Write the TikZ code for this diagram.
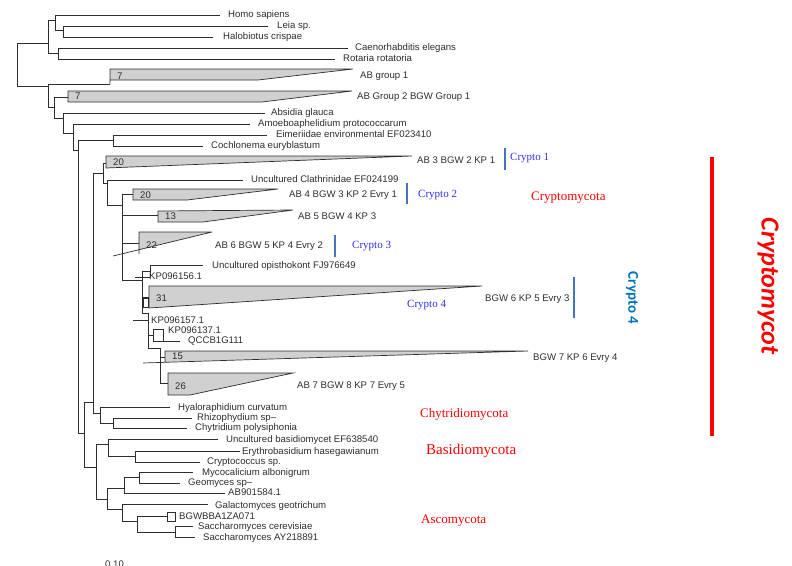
\documentclass[tikz,border=0pt]{standalone}
\usepackage{fontspec}
\setmainfont{Liberation Serif}
\setsansfont{Liberation Sans}
\newfontfamily\calibrifont{Carlito}
\definecolor{cryptoblue}{RGB}{45,45,245}
\definecolor{barblue}{RGB}{70,115,190}
\definecolor{sideblue}{RGB}{0,112,192}
\definecolor{cladegray}{RGB}{208,208,208}
\definecolor{treeline}{RGB}{45,45,45}

\begin{document}
\begin{tikzpicture}[x=1pt, y=-1pt,
  br/.style={draw=treeline, line width=0.8pt},
  clade/.style={fill=cladegray, draw=treeline, line width=0.7pt},
  taxon/.style={anchor=mid west, inner sep=0pt, text=treeline, font=\sffamily\fontsize{9.6}{10}\selectfont},
  cryptotag/.style={anchor=mid west, inner sep=0pt, text=cryptoblue, font=\fontsize{11}{12}\selectfont},
  phylum/.style={anchor=mid west, inner sep=0pt, text=red, font=\fontsize{13}{14}\selectfont},
  cryptobar/.style={draw=barblue, line width=2.6pt},
]
\useasboundingbox (0,0) rectangle (792,565);

% outgroup
\draw[br] (17,43) -- (17,86) (17,43) -- (48,43) (48,20) -- (48,53);
\draw[br] (48,20) -- (55,20) (55,15) -- (55,30) (55,15) -- (220,15);
\draw[br] (55,30) -- (63,30) (63,26) -- (63,37) (63,26) -- (268,26) (63,37) -- (213,37);
\draw[br] (48,53) -- (58,53) (58,48) -- (58,59) (58,48) -- (348,48) (58,59) -- (335,59);
\node[taxon] (homo) at (228,15) {Homo sapiens};
\node[taxon] (leia) at (277,26) {Leia sp.};
\node[taxon] (halo) at (223,37) {Halobiotus crispae};
\node[taxon] (caeno) at (355,48) {Caenorhabditis elegans};
\node[taxon] (rota) at (343,59) {Rotaria rotatoria};

% AB groups and early fungi
\draw[br] (17,86) -- (48,86) (48,84) -- (48,107) (48,84) -- (110,84);
\draw[clade] (110,84) -- (110,69) -- (353,69) -- (258,80) -- (110,80);
\node[taxon] (ab1n) at (117,77) {7};
\node[taxon] (ab1) at (360,76) {AB group 1};
\draw[br] (48,107) -- (54,107) (54,97) -- (54,118) (54,97) -- (68,97);
\draw[clade] (68,91) -- (352,91) -- (262,102) -- (68,102) -- cycle;
\node[taxon] (ab2n) at (75,97) {7};
\node[taxon] (ab2) at (357,97) {AB Group 2 BGW Group 1};
\draw[br] (54,118) -- (63,118) (63,113) -- (63,133) (63,113) -- (265,113);
\node[taxon] (absi) at (271,113) {Absidia glauca};
\draw[br] (63,133) -- (73,133) (73,124) -- (73,150) (73,124) -- (250,124);
\node[taxon] (amoe) at (258,124) {Amoeboaphelidium protococcarum};
\draw[br] (73,150) -- (78,150) (78,140) -- (78,433);
\draw[br] (78,140) -- (113,140) (113,135) -- (113,146) (113,135) -- (267,135) (113,146) -- (203,146);
\node[taxon] (eime) at (276,135) {Eimeriidae environmental EF023410};
\node[taxon] (coch) at (211,146) {Cochlonema euryblastum};

% Cryptomycota
\draw[br] (78,433) -- (84,433) (84,402) -- (84,467) (84,402) -- (93,402) (93,173) -- (93,413);
\draw[br] (93,173) -- (103,173) (103,163) -- (103,183) (103,163) -- (106,163);
\draw[clade] (106,156) -- (412,156) -- (106,168) -- cycle;
\node[taxon] (c1n) at (113,163) {20};
\node[taxon] (c1) at (417,161) {AB 3 BGW 2 KP 1};
\draw[br] (103,183) -- (107,183) (107,180) -- (107,205) (107,180) -- (243,180);
\node[taxon] (clat) at (251,180) {Uncultured Clathrinidae EF024199};
\draw[br] (107,205) -- (122,205) (122,194) -- (122,280) (122,194) -- (133,194) (122,215) -- (158,215);
\draw[clade] (133,189) -- (278,189) -- (187,200) -- (133,200) -- cycle;
\node[taxon] (c2n) at (140,196) {20};
\node[taxon] (c2) at (289,195) {AB 4 BGW 3 KP 2 Evry 1};
\draw[clade] (158,211) -- (293,210) -- (203,222) -- (158,222) -- cycle;
\node[taxon] (c5n) at (165,217) {13};
\node[taxon] (c5) at (298,217) {AB 5 BGW 4 KP 3};
\draw[br] (122,243) -- (139,243);
\fill[cladegray] (139,232) -- (212,232) -- (139,250) -- cycle;
\draw[br, line width=0.7pt] (139,254) -- (139,232) -- (212,232) (113,256) -- (212,232);
\node[taxon] (c3n) at (146,246) {22};
\node[taxon] (c3) at (215,246) {AB 6 BGW 5 KP 4 Evry 2};
\draw[br] (122,280) -- (142,280) (142,271) -- (142,313) (142,271) -- (150,271) (150,265) -- (150,277);
\draw[br] (150,265) -- (203,265) (135,277) -- (150,277);
\node[taxon] (opis) at (212,266) {Uncultured opisthokont FJ976649};
\node[taxon] (kp156) at (149,277) {KP096156.1};
\draw[br] (142,297) -- (149,297) (143,298) rectangle (148,307);
\draw[clade] (149,286) -- (482,286) -- (149,308) -- cycle;
\node[taxon] (c4n) at (156,299) {31};
\node[taxon] (c4) at (485,299) {BGW 6 KP 5 Evry 3};
\draw[br] (142,313) -- (148,313) (148,313) -- (148,348) (133,320) -- (148,320);
\node[taxon] (kp157) at (151,321) {KP096157.1};
\draw[br] (148,335) -- (153,335) (153,329) -- (153,341) (153,329) -- (163,329) (163,329) -- (163,341) (153,341) -- (180,341);
\node[taxon] (kp137) at (168,331) {KP096137.1};
\node[taxon] (qccb) at (188,341) {QCCB1G111};
\draw[br] (148,348) -- (160,348) (160,348) -- (160,383) (160,357) -- (165,357) (160,383) -- (168,383);
\fill[cladegray] (165,351) -- (528,351) -- (165,362) -- cycle;
\draw[br, line width=0.7pt] (165,362) -- (165,351) -- (528,351) (143,363) -- (528,351);
\node[taxon] (c6n) at (172,357) {15};
\node[taxon] (c6) at (533,358) {BGW 7 KP 6 Evry 4};
\draw[clade] (168,373) -- (293,373) -- (190,395) -- (168,395) -- cycle;
\node[taxon] (c7n) at (175,387) {26};
\node[taxon] (c7) at (297,386) {AB 7 BGW 8 KP 7 Evry 5};

% Chytridiomycota
\draw[br] (93,413) -- (100,413) (100,407) -- (100,423) (100,407) -- (170,407);
\draw[br] (100,423) -- (113,423) (113,418) -- (113,428) (113,418) -- (192,418) (113,428) -- (187,428);
\node[taxon] (hyal) at (178,408) {Hyaloraphidium curvatum};
\node[taxon] (rhiz) at (197,418) {Rhizophydium sp--};
\node[taxon] (chyt) at (195,428) {Chytridium polysiphonia};

% Basidiomycota and Ascomycota
\draw[br] (84,467) -- (96,467) (96,444) -- (96,499);
\draw[br] (96,444) -- (108,444) (108,439) -- (108,456) (108,439) -- (218,439);
\draw[br] (108,456) -- (135,456) (135,451) -- (135,462) (135,451) -- (240,451) (135,462) -- (200,462);
\node[taxon] (ubas) at (226,440) {Uncultured basidiomycet EF638540};
\node[taxon] (eryt) at (242,452) {Erythrobasidium hasegawianum};
\node[taxon] (cryc) at (207,462) {Cryptococcus sp.};
\draw[br] (96,499) -- (107,499) (107,488) -- (107,509);
\draw[br] (107,488) -- (124,488) (124,477) -- (124,493) (124,493) -- (225,493);
\draw[br] (124,477) -- (139,477) (139,472) -- (139,483) (139,472) -- (193,472) (139,483) -- (180,483);
\node[taxon] (myco) at (202,473) {Mycocalicium albonigrum};
\node[taxon] (geom) at (188,483) {Geomyces sp--};
\node[taxon] (ab90) at (228,493) {AB901584.1};
\draw[br] (107,509) -- (122,509) (122,504) -- (122,521) (122,504) -- (208,504);
\draw[br] (122,521) -- (137,521) (137,516) -- (137,532) (137,516) -- (167,516) (167,512) rectangle (175,521);
\draw[br] (137,532) -- (175,532) (175,526) -- (175,537) (175,526) -- (193,526) (175,537) -- (195,537);
\node[taxon] (gala) at (215,506) {Galactomyces geotrichum};
\node[taxon] (bgwb) at (179,517) {BGWBBA1ZA071};
\node[taxon] (sacc) at (198,527) {Saccharomyces cerevisiae};
\node[taxon] (say) at (203,538) {Saccharomyces AY218891};
\node[taxon, anchor=north west] (scale) at (105,561) {0.10};

% group marks
\draw[cryptobar] (505,148) -- (505,170);
\draw[cryptobar] (407,183) -- (407,204);
\draw[cryptobar] (335,235) -- (335,257);
\draw[cryptobar] (574,277) -- (574,318);
\node[cryptotag] (cr1) at (510,158) {Crypto 1};
\node[cryptotag] (cr2) at (418,195) {Crypto 2};
\node[cryptotag] (cr3) at (352,246) {Crypto 3};
\node[cryptotag] (cr4) at (407,305) {Crypto 4};
\node[rotate=-90, inner sep=0pt, text=sideblue, font=\calibrifont\bfseries\fontsize{15}{16}\selectfont] (side4) at (632,298) {Crypto 4};
\node[phylum] (cryp) at (531,198) {Cryptomycota};
\node[phylum] (chytp) at (420,415) {Chytridiomycota};
\node[phylum, font=\fontsize{15}{16}\selectfont] (basp) at (426,452) {Basidiomycota};
\node[phylum] (ascp) at (421,521) {Ascomycota};
\draw[red, line width=4pt] (712,157) -- (712,436);
\node[rotate=-90, inner sep=0pt, text=red, font=\calibrifont\bfseries\itshape\fontsize{26}{28}\selectfont] (sidecryp) at (768,286) {Cryptomycot};
\end{tikzpicture}
\end{document}
